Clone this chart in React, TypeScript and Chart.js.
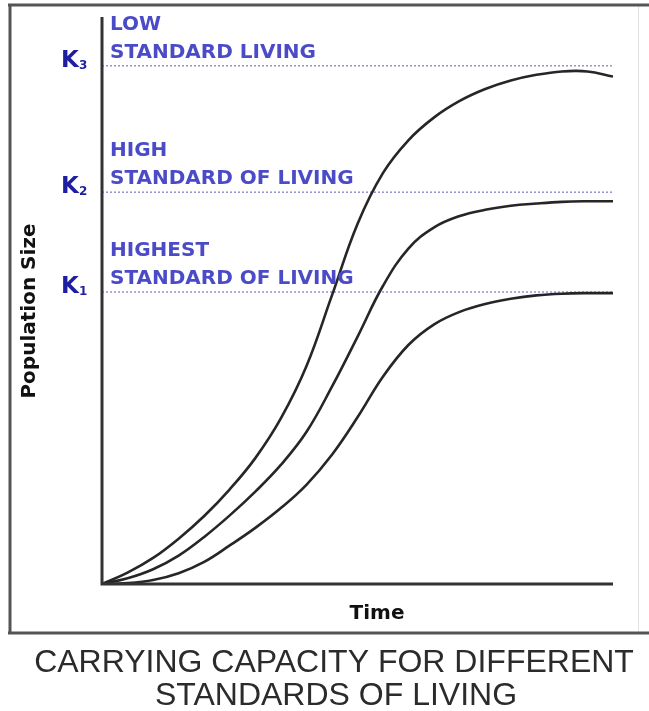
import React, { useEffect, useRef } from "react";
import { Chart, registerables } from "chart.js";

Chart.register(...registerables);

// Time axis (arbitrary units 0..100) and population size (arbitrary units 0..100)
const timePoints = [0, 5, 10, 15, 20, 25, 30, 35, 40, 45, 50, 55, 60, 65, 70, 75, 80, 85, 90, 95, 100];
const lowStdPop = [0, 2.0, 4.6, 8.0, 12.0, 16.7, 22.2, 29.2, 38.4, 50.9, 63.5, 72.5, 78.3, 82.3, 85.2, 87.3, 88.8, 89.8, 90.4, 90.4, 89.5];
const highStdPop = [0, 1.0, 2.6, 5.0, 8.3, 12.1, 16.3, 21.0, 26.8, 34.8, 43.6, 52.6, 59.2, 62.9, 64.9, 66.0, 66.7, 67.1, 67.4, 67.5, 67.5];
const highestStdPop = [0, 0.15, 0.7, 1.9, 3.9, 6.8, 9.9, 13.4, 17.5, 22.8, 29.4, 36.6, 42.2, 45.8, 48.0, 49.4, 50.3, 50.9, 51.2, 51.3, 51.3];

const capacityNames = ["K3", "K2", "K1"];
const capacityValues = [91.4, 69.1, 51.5];
const capacityLabelTop = ["LOW", "HIGH", "HIGHEST"];
const capacityLabelBottom = ["STANDARD LIVING", "STANDARD OF LIVING", "STANDARD OF LIVING"];

const xAxisTitle = "Time";
const yAxisTitle = "Population Size";
const titleLines = ["CARRYING CAPACITY FOR DIFFERENT", "STANDARDS OF LIVING"];

const pts = (xs: number[], ys: number[]) => xs.map((x, i) => ({ x, y: ys[i] }));

const annotationPlugin = {
  id: "annotations",
  afterDraw(chart: any) {
    const ctx = chart.ctx as CanvasRenderingContext2D;
    const xs = chart.scales.x;
    const ys = chart.scales.y;
    const x0 = xs.getPixelForValue(0);
    const x1 = xs.getPixelForValue(100);
    const y0 = ys.getPixelForValue(0);
    const y1 = ys.getPixelForValue(100);
    ctx.save();

    // outer frame
    ctx.lineCap = "butt";
    ctx.strokeStyle = "#e2e2e2";
    ctx.lineWidth = 1;
    ctx.beginPath();
    ctx.moveTo(638.5, 5);
    ctx.lineTo(638.5, 633);
    ctx.stroke();
    ctx.strokeStyle = "#555";
    ctx.lineWidth = 3;
    ctx.beginPath();
    ctx.moveTo(8, 5);
    ctx.lineTo(649, 5);
    ctx.moveTo(10, 4);
    ctx.lineTo(10, 634);
    ctx.moveTo(8, 633);
    ctx.lineTo(649, 633);
    ctx.stroke();

    // axes
    ctx.strokeStyle = "#333";
    ctx.lineWidth = 3;
    ctx.beginPath();
    ctx.moveTo(x0, y1);
    ctx.lineTo(x0, y0);
    ctx.lineTo(x1, y0);
    ctx.stroke();

    // capacity labels
    ctx.textAlign = "left";
    ctx.textBaseline = "alphabetic";
    capacityValues.forEach((v, i) => {
      const py = ys.getPixelForValue(v);
      ctx.fillStyle = "#1e1ea0";
      ctx.font = 'bold 23px "DejaVu Sans"';
      ctx.fillText(capacityNames[i].charAt(0), 61, py + 1);
      ctx.font = 'bold 12px "DejaVu Sans"';
      ctx.fillText(capacityNames[i].slice(1), 79, py + 3);
      ctx.fillStyle = "#4b4bc8";
      ctx.font = 'bold 20px "DejaVu Sans"';
      ctx.fillText(capacityLabelTop[i], x0 + 8, py - 36);
      ctx.fillText(capacityLabelBottom[i], x0 + 8, py - 8);
    });

    // axis titles
    ctx.fillStyle = "#111";
    ctx.font = 'bold 20px "DejaVu Sans"';
    ctx.textAlign = "center";
    ctx.fillText(xAxisTitle, 377, 619);
    ctx.save();
    ctx.translate(35, 311);
    ctx.rotate(-Math.PI / 2);
    ctx.fillText(yAxisTitle, 0, 0);
    ctx.restore();

    // chart title
    ctx.fillStyle = "#2b2b2b";
    ctx.font = '32px "Liberation Sans", Arial, sans-serif';
    ctx.fillText(titleLines[0], 334, 672);
    ctx.fillText(titleLines[1], 336, 705);
    ctx.restore();
  },
};

export default function App() {
  const ref = useRef<HTMLCanvasElement | null>(null);
  useEffect(() => {
    if (!ref.current) return;
    const capacityDatasets = capacityValues.map((v, i) => ({
      label: capacityNames[i],
      data: [
        { x: 0, y: v },
        { x: 100.5, y: v },
      ],
      borderColor: "rgba(110,110,200,0.75)",
      borderWidth: 1.5,
      borderDash: [2, 2],
      pointRadius: 0,
      tension: 0,
      order: 2,
    }));
    const curve = (label: string, ys: number[]) => ({
      label,
      data: pts(timePoints, ys),
      borderColor: "#262626",
      borderWidth: 2.6,
      pointRadius: 0,
      tension: 0.4,
      order: 1,
    });
    const chart = new Chart(ref.current, {
      type: "line",
      data: {
        datasets: [
          ...capacityDatasets,
          curve("Low standard of living", lowStdPop),
          curve("High standard of living", highStdPop),
          curve("Highest standard of living", highestStdPop),
        ] as any,
      },
      options: {
        responsive: false,
        animation: false,
        layout: { padding: { left: 102, right: 36, top: 17, bottom: 127 } },
        scales: {
          x: { type: "linear", min: 0, max: 100, display: false },
          y: { type: "linear", min: 0, max: 100, display: false },
        },
        plugins: {
          legend: { display: false },
          tooltip: { enabled: false },
          title: { display: false },
        },
      },
      plugins: [annotationPlugin],
    });
    return () => chart.destroy();
  }, []);
  return (
    <div style={{ position: "absolute", left: 0, top: 0, width: 649, height: 711, background: "#fff" }}>
      <canvas ref={ref} width={649} height={711} style={{ display: "block", width: 649, height: 711 }} />
    </div>
  );
}
